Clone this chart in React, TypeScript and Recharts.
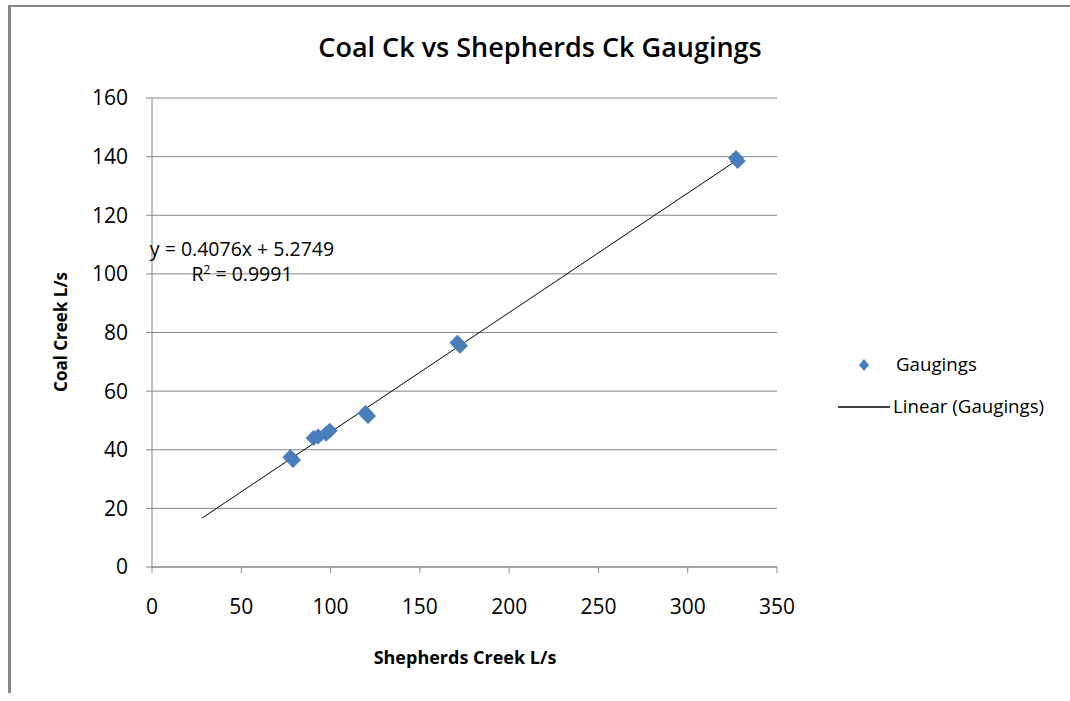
import React from 'react';
import {
  ScatterChart,
  Scatter,
  XAxis,
  YAxis,
  CartesianGrid,
} from 'recharts';

// Gaugings (Shepherds Ck L/s, Coal Ck L/s)
const shepherds = [77.5, 79, 90.5, 93, 97.5, 99.5, 119.5, 121, 171, 172.5, 327, 328];
const coal = [37.5, 36.5, 44, 44.5, 45.5, 46.5, 52.5, 51.5, 76.5, 75.5, 139.5, 138.5];

// Excel linear trendline (backward forecast to ~28)
const trendX = [28, 328];
const SLOPE = 0.4076;
const INTERCEPT = 5.2749;

const xTicks = [0, 50, 100, 150, 200, 250, 300, 350];
const yTicks = [0, 20, 40, 60, 80, 100, 120, 140, 160];

const gaugings = shepherds.map((x, i) => ({ x, y: coal[i] }));
const trend = trendX.map((x) => ({ x, y: SLOPE * x + INTERCEPT }));

const BLUE = '#4a7ebb';
const GRID = '#868686';
const FONT = '"Open Sans", Lato, sans-serif';

const Diamond = (props: any) => {
  const { cx, cy } = props;
  const r = 8;
  return (
    <polygon
      points={`${cx},${cy - r} ${cx + r},${cy} ${cx},${cy + r} ${cx - r},${cy}`}
      fill={BLUE}
    />
  );
};

const NoShape = () => null;

const App: React.FC = () => {
  return (
    <div style={{ position: 'absolute', left: 0, top: 0, width: 1070, height: 701, background: '#fff', fontFamily: FONT }}>
      <style>{'body{margin:0}'}</style>
      {/* chart frame, only top and left edges visible */}
      <div
        style={{
          position: 'absolute',
          left: 8,
          top: 5,
          width: 1070,
          height: 686,
          borderLeft: '3px solid #888',
          borderTop: '2px solid #888',
        }}
      />
      <ScatterChart
        width={1070}
        height={701}
        margin={{ top: 98, right: 293, bottom: 74, left: 82 }}
        style={{ position: 'absolute', left: 0, top: 0 }}
      >
        <CartesianGrid horizontal vertical={false} stroke={GRID} strokeWidth={1} />
        <XAxis
          type="number"
          dataKey="x"
          domain={[0, 350]}
          ticks={xTicks}
          height={60}
          axisLine={{ stroke: GRID }}
          tickLine={{ stroke: GRID }}
          tickSize={6}
          tickMargin={26}
          tick={{ fill: '#000', fontSize: 21, fontFamily: FONT }}
        />
        <YAxis
          type="number"
          dataKey="y"
          domain={[0, 160]}
          ticks={yTicks}
          width={70}
          axisLine={{ stroke: GRID }}
          tickLine={{ stroke: GRID }}
          tickSize={6}
          tickMargin={18}
          tick={{ fill: '#000', fontSize: 21, fontFamily: FONT }}
        />
        <Scatter
          data={trend}
          line={{ stroke: '#000', strokeWidth: 1 }}
          lineType="joint"
          shape={NoShape}
          isAnimationActive={false}
        />
        <Scatter data={gaugings} shape={Diamond} isAnimationActive={false} />
      </ScatterChart>

      <div style={{ position: 'absolute', left: 0, width: 1080, top: 28, textAlign: 'center', fontSize: 27, fontWeight: 600 }}>
        Coal Ck vs Shepherds Ck Gaugings
      </div>
      <div style={{ position: 'absolute', left: 315, width: 300, top: 645, textAlign: 'center', fontSize: 18, fontWeight: 700 }}>
        Shepherds Creek L/s
      </div>
      <div
        style={{
          position: 'absolute',
          left: 60,
          top: 332,
          transform: 'translate(-50%, -50%) rotate(-90deg)',
          whiteSpace: 'nowrap',
          fontSize: 17,
          fontWeight: 700,
        }}
      >
        Coal Creek L/s
      </div>
      <div style={{ position: 'absolute', left: 132, top: 236, fontSize: 19.5, lineHeight: '25px', textAlign: 'center', width: 220 }}>
        <div>y = 0.4076x + 5.2749</div>
        <div>
          R<span style={{ fontSize: 12, position: 'relative', top: -7, lineHeight: 0 }}>2</span> = 0.9991
        </div>
      </div>

      {/* legend */}
      <svg style={{ position: 'absolute', left: 830, top: 350 }} width={70} height={70}>
        <polygon points="34,9 39,15 34,21 29,15" fill={BLUE} />
        <line x1={8} y1={57} x2={60} y2={57} stroke="#000" strokeWidth={1.5} />
      </svg>
      <div style={{ position: 'absolute', left: 896, top: 351, fontSize: 18.7 }}>Gaugings</div>
      <div style={{ position: 'absolute', left: 893, top: 393, fontSize: 18.7 }}>Linear (Gaugings)</div>
    </div>
  );
};

export default App;
